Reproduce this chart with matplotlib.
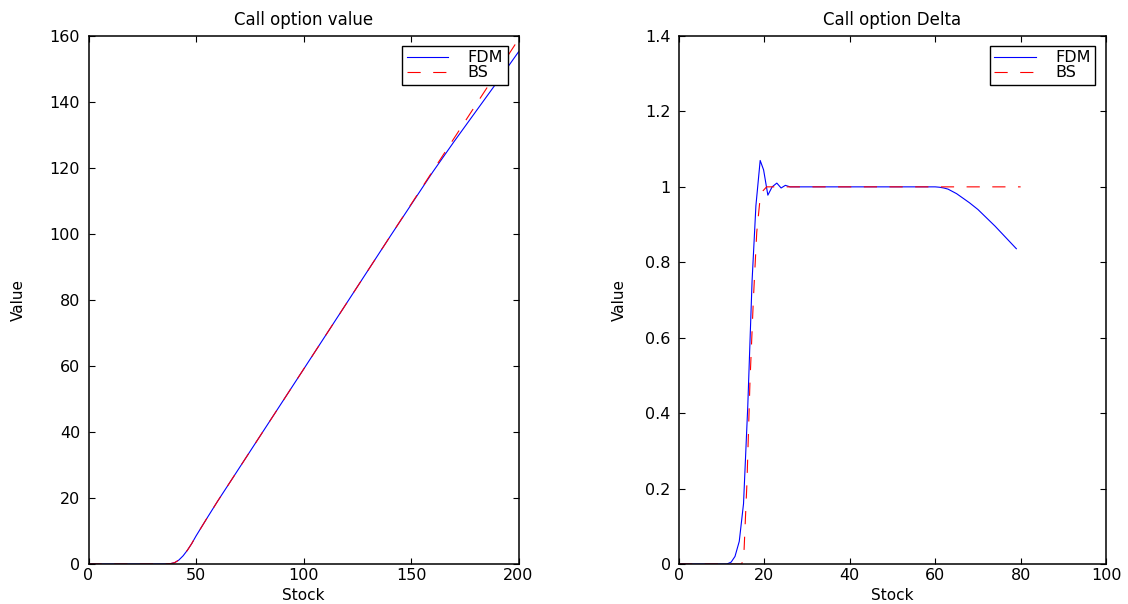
import matplotlib
matplotlib.use("Agg")
import matplotlib.pyplot as plt

plt.rcParams['font.family'] = ['DejaVu Sans']
plt.rcParams['font.size'] = 12
plt.rcParams['lines.scale_dashes'] = False

# call option value (left panel)
stock_v = [0, 30, 36, 38, 40, 42, 44, 46, 48, 50, 55, 60, 80, 100, 120, 140, 160, 170, 180, 190, 200]
bs_value = [0, 0, 0.02, 0.1, 0.4, 1.2, 2.5, 4.2, 6.2, 8.5, 13.8, 19.0, 39.0, 59.0, 79.0, 99.0, 119.0, 129.0, 139.0, 149.0, 159.0]
fdm_value = [0, 0, 0.02, 0.1, 0.4, 1.2, 2.5, 4.2, 6.2, 8.5, 13.8, 19.0, 39.0, 59.0, 79.0, 99.0, 118.7, 128.0, 137.0, 146.0, 155.2]

# call option delta (right panel)
stock_d_fdm = [0, 11.2, 12.2, 13.1, 14.1, 15.1, 16.1, 17.1, 18.0, 19.0, 19.8, 20.8, 21.8, 22.9, 23.9, 24.9, 26,
               60, 61, 62, 63, 64, 65, 66, 67, 68, 69, 70, 71, 72, 73, 74, 75, 76, 77, 78, 79]
fdm_delta = [0, 0, 0.005, 0.02, 0.06, 0.16, 0.42, 0.75, 0.95, 1.07, 1.045, 0.978, 1.0, 1.01, 0.997, 1.004, 1.0,
             1.0, 0.999, 0.997, 0.994, 0.988, 0.982, 0.974, 0.966, 0.958, 0.949, 0.940, 0.929, 0.918, 0.907,
             0.896, 0.884, 0.872, 0.860, 0.848, 0.836]
stock_d_bs = [0, 14.7, 15.2, 15.9, 16.6, 17.4, 18.2, 18.9, 19.7, 20.5, 80]
bs_delta = [0, 0, 0.03, 0.215, 0.48, 0.70, 0.88, 0.96, 0.99, 1.0, 1.0]

fig = plt.figure(figsize=(11.28, 6.04), dpi=100)
ax1 = fig.add_axes([0.0785, 0.0662, 0.3812, 0.8742])
ax2 = fig.add_axes([0.602, 0.0662, 0.3785, 0.8742])


def style(ax, title, xlim, ylim, xticks, yticks, ylabels):
    ax.set_xlim(xlim)
    ax.set_ylim(ylim)
    ax.set_xticks(xticks)
    ax.set_yticks(yticks)
    ax.set_yticklabels(ylabels)
    ax.tick_params(direction='in', length=4, width=0.8, top=True, right=True, labelsize=11.5)
    ax.tick_params(axis='x', pad=3)
    ax.tick_params(axis='y', pad=6)
    for s in ax.spines.values():
        s.set_linewidth(1.1)
    ax.set_title(title, fontsize=12, pad=8)
    ax.set_xlabel('Stock', fontsize=11, va='center')
    ax.xaxis.set_label_coords(0.5, -0.060)
    ax.set_ylabel('Value', fontsize=11)
    leg = ax.legend(loc='upper right', bbox_to_anchor=(0.975, 0.982), borderaxespad=0,
                    fancybox=False, framealpha=1, edgecolor='black', handlelength=2.6,
                    handletextpad=1.2, borderpad=0.3, labelspacing=0.0, fontsize=11.5)
    leg.get_frame().set_linewidth(1.0)


ax1.plot(stock_v, fdm_value, color='#0000ff', lw=0.8, label='FDM')
ax1.plot(stock_v, bs_value, color='#ff0000', lw=0.8, dashes=(9.5, 9), label='BS')
style(ax1, 'Call option value', (0, 200), (0, 160), range(0, 201, 50),
      range(0, 161, 20), [str(v) for v in range(0, 161, 20)])
ax1.yaxis.set_label_coords(-0.145, 0.5)

ax2.plot(stock_d_fdm, fdm_delta, color='#0000ff', lw=0.8, label='FDM')
ax2.plot(stock_d_bs, bs_delta, color='#ff0000', lw=0.8, dashes=(9.5, 9), label='BS')
style(ax2, 'Call option Delta', (0, 100), (0, 1.4), range(0, 101, 20),
      [0, 0.2, 0.4, 0.6, 0.8, 1.0, 1.2, 1.4], ['0', '0.2', '0.4', '0.6', '0.8', '1', '1.2', '1.4'])
ax2.yaxis.set_label_coords(-0.122, 0.5)

fig.savefig('out.png', dpi=100)
